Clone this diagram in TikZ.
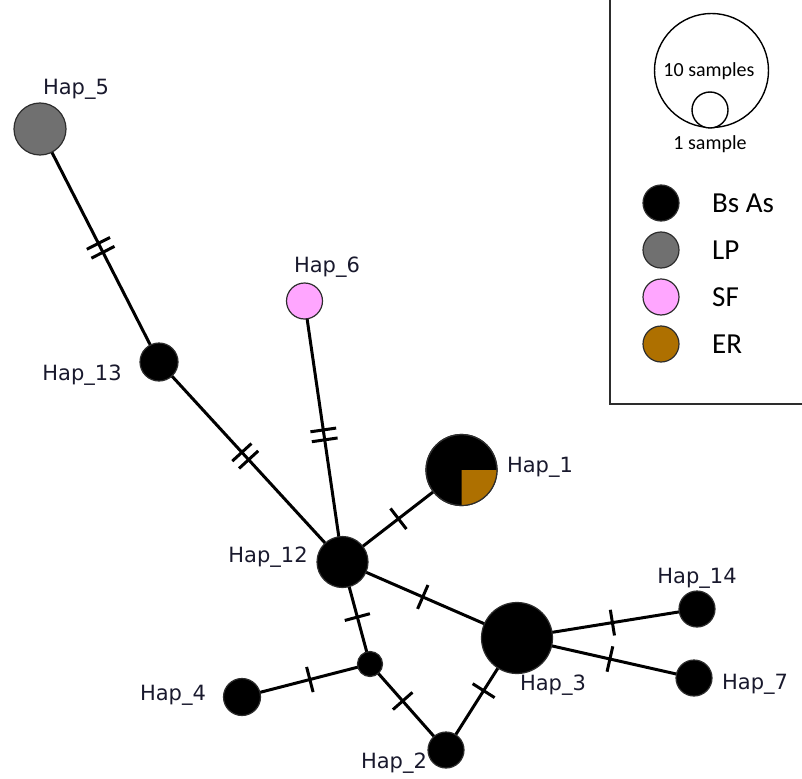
\documentclass[tikz,border=0pt]{standalone}
\usepackage{fontspec}
\setmainfont{DejaVu Sans}
\newfontfamily\legfont{Carlito}
\usetikzlibrary{decorations.markings,backgrounds}

\definecolor{lpgrey}{RGB}{112,112,112}
\definecolor{sfpink}{RGB}{255,166,255}
\definecolor{erbrown}{RGB}{174,112,0}
\definecolor{rimgrey}{RGB}{45,45,45}
\definecolor{labelink}{RGB}{25,25,45}

\begin{document}
\begin{tikzpicture}[x=1pt,y=-1pt,
  hap/.style={circle, draw=rimgrey, line width=1.2pt, fill=black, inner sep=0pt, minimum size=#1},
  lbl/.style={font=\fontsize{21}{21}\selectfont, text=labelink, inner sep=0pt},
  link/.style={line width=3pt, black},
  onetick/.style={postaction={decorate}, decoration={markings,
      mark=at position #1 with {\draw[line width=3pt] (0,-13)--(0,13);}}},
  twotick/.style={postaction={decorate}, decoration={markings,
      mark=at position #1 with {\draw[line width=3pt] (-5,-13)--(-5,13) (5,-13)--(5,13);}}},
  legdot/.style={circle, draw=rimgrey, line width=1.2pt, inner sep=0pt, minimum size=36},
  legtxt/.style={font=\legfont\fontsize{29}{29}\selectfont, anchor=west, inner sep=0pt}
]
\useasboundingbox (0,0) rectangle (802,778);

% haplotype nodes
\node[hap=52, fill=lpgrey] (h5) at (40,129) {};
\node[hap=38] (h13) at (159,362) {};
\node[hap=36, fill=sfpink] (h6) at (304.5,301) {};
\node[hap=71] (h1) at (461.5,470) {};
\node[hap=51] (h12) at (342.5,562) {};
\node[hap=71] (h3) at (517,638) {};
\node[hap=36] (h14) at (697,609) {};
\node[hap=36] (h7) at (694,678) {};
\node[hap=25] (mv) at (370,664) {};
\node[hap=37] (h4) at (242,697) {};
\node[hap=36] (h2) at (446,750) {};

% ER share of Hap_1
\fill[erbrown] (h1.center) -- ++(35.5,0) arc[start angle=0, end angle=90, radius=35.5] -- cycle;
\draw[rimgrey, line width=1.2pt] (h1.center) circle[radius=35.5];

% mutational steps
\begin{scope}[on background layer]
  \draw[link, twotick=0.51] (h5.center) -- (h13.center);
  \draw[link, twotick=0.47] (h13.center) -- (h12.center);
  \draw[link, twotick=0.513] (h6.center) -- (h12.center);
  \draw[link, onetick=0.53] (h1.center) -- (h12.center);
  \draw[link, onetick=0.46] (h12.center) -- (h3.center);
  \draw[link, onetick=0.54] (h12.center) -- (mv.center);
  \draw[link, onetick=0.47] (mv.center) -- (h4.center);
  \draw[link, onetick=0.43] (mv.center) -- (h2.center);
  \draw[link, onetick=0.53] (h2.center) -- (h3.center);
  \draw[link, onetick=0.53] (h3.center) -- (h14.center);
  \draw[link, onetick=0.525] (h3.center) -- (h7.center);
\end{scope}

% labels
\node[lbl] (t5) at (76,89) {Hap\_5};
\node[lbl] (t13) at (82,375) {Hap\_13};
\node[lbl] (t6) at (327,267) {Hap\_6};
\node[lbl] (t1) at (540,467) {Hap\_1};
\node[lbl] (t12) at (268,557) {Hap\_12};
\node[lbl] (t3) at (553,685) {Hap\_3};
\node[lbl] (t14) at (697,578) {Hap\_14};
\node[lbl] (t7) at (755,684) {Hap\_7};
\node[lbl] (t4) at (173,695) {Hap\_4};
\node[lbl] (t2) at (394,763) {Hap\_2};

% legend frame
\draw[rimgrey, line width=2pt] (610,0) coordinate (fa) -- (610,404) coordinate (fb) -- (802,404) coordinate (fc);

% size key
\node[circle, draw=black, line width=1.4pt, inner sep=0pt, minimum size=114] (big) at (711.5,70.5) {};
\node[circle, draw=black, line width=1.4pt, fill=white, inner sep=0pt, minimum size=36] (small) at (710,110) {};
\node[font=\legfont\fontsize{20}{20}\selectfont, inner sep=0pt] (tbig) at (709,71) {10 samples};
\node[font=\legfont\fontsize{20}{20}\selectfont, inner sep=0pt] (tsmall) at (710,144) {1 sample};

% colour key
\node[legdot, fill=black] (kbs) at (661,203) {};
\node[legdot, fill=lpgrey] (klp) at (661,250) {};
\node[legdot, fill=sfpink] (ksf) at (661,297) {};
\node[legdot, fill=erbrown] (ker) at (661,344) {};
\node[legtxt] (lbs) at (712,203) {Bs As};
\node[legtxt] (llp) at (712,250) {LP};
\node[legtxt] (lsf) at (712,297) {SF};
\node[legtxt] (ler) at (712,344) {ER};
\end{tikzpicture}
\end{document}
